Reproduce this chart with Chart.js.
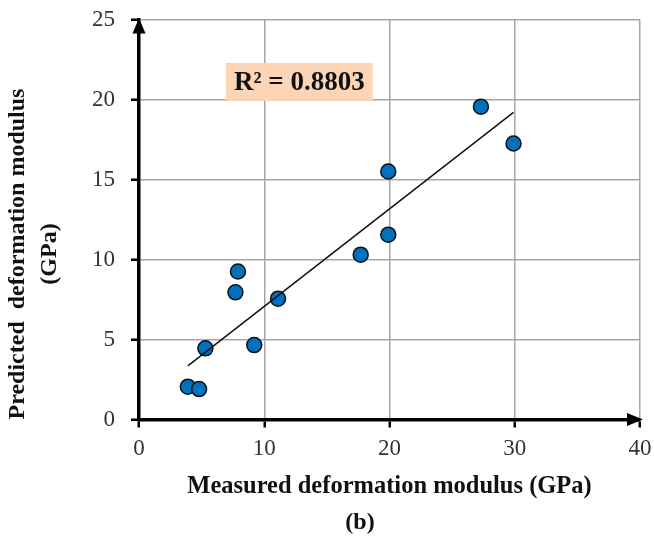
<!DOCTYPE html>
<html>
<head>
<meta charset="utf-8">
<script src="https://cdn.jsdelivr.net/npm/chart.js@4/dist/chart.umd.min.js"></script>
<style>
html,body{margin:0;padding:0;background:#fff;}
#wrap{width:654px;height:538px;}
</style>
</head>
<body>
<div id="wrap"><canvas id="chart" width="654" height="538"></canvas></div>
<script>
// measured vs predicted deformation modulus (GPa)
const measured=[3.9,4.8,5.3,7.7,7.9,9.2,11.1,17.7,19.9,19.9,27.3,29.9];
const predicted=[2.05,1.9,4.45,7.95,9.25,4.65,7.55,10.3,11.55,15.5,19.55,17.25];

// trend line end points
const trendX=[3.9,29.9];
const trendY=[3.35,19.2];

const r2Text="R\u00b2 = 0.8803";
const r2Pos=[12.8,21.1];

const xTicks=[0,10,20,30,40];
const yTicks=[0,5,10,15,20,25];

const yTitle=['Predicted  deformation modulus','(GPa)'];

const serif="'Liberation Serif','Times New Roman',serif";

const points=measured.map((x,i)=>({x:x,y:predicted[i]}));
const trend=trendX.map((x,i)=>({x:x,y:trendY[i]}));

// axis arrows, R² box, y title and the (b) caption
const extras={
id:'extras',
afterDraw(chart){
const ctx=chart.ctx;
const a=chart.chartArea;
const xs=chart.scales.x;
const ys=chart.scales.y;
ctx.save();
ctx.fillStyle='#000';
// y arrow
ctx.beginPath();
ctx.moveTo(a.left,a.top-1.5);
ctx.lineTo(a.left-6.5,a.top+14);
ctx.lineTo(a.left+6.5,a.top+14);
ctx.closePath();
ctx.fill();
// x arrow
ctx.beginPath();
ctx.moveTo(a.right+3,a.bottom);
ctx.lineTo(a.right-13,a.bottom-6.5);
ctx.lineTo(a.right-13,a.bottom+6.5);
ctx.closePath();
ctx.fill();

// R² label
ctx.font="bold 27px "+serif;
const w=ctx.measureText(r2Text).width;
const cx=xs.getPixelForValue(r2Pos[0]);
const cy=ys.getPixelForValue(r2Pos[1]);
ctx.fillStyle='#fbd5b5';
ctx.fillRect(cx-w/2-8,cy-19,w+16,38);
ctx.fillStyle='#111';
ctx.textAlign='center';
ctx.textBaseline='middle';
ctx.fillText(r2Text,cx,cy+1);

// y title, two lines
ctx.font="bold 24px "+serif;
ctx.save();
ctx.translate(17.5,254);
ctx.rotate(-Math.PI/2);
ctx.fillText(yTitle[0],0,0);
ctx.restore();
ctx.save();
ctx.translate(50,254);
ctx.rotate(-Math.PI/2);
ctx.fillText(yTitle[1],0,0);
ctx.restore();

// caption
ctx.fillText('(b)',360,523);
ctx.restore();
}
};

function noPad(s){
s.paddingTop=0;
s.paddingBottom=0;
s.paddingLeft=0;
s.paddingRight=0;
}

new Chart(document.getElementById('chart'),{
type:'scatter',
data:{
datasets:[
{
label:'trend',
type:'line',
data:trend,
borderColor:'#111',
borderWidth:1.5,
pointRadius:0,
fill:false,
order:0
},
{
label:'points',
data:points,
backgroundColor:'#0070c0',
borderColor:'#111',
borderWidth:1.5,
pointRadius:7.5,
order:1
}
]
},
options:{
responsive:false,
animation:false,
layout:{autoPadding:false,padding:{top:19.5,right:14,left:0,bottom:0}},
plugins:{
legend:{display:false},
tooltip:{enabled:false}
},
scales:{
x:{
type:'linear',
min:xTicks[0],
max:xTicks[xTicks.length-1],
afterBuildTicks(s){s.ticks=xTicks.map(v=>({value:v}));},
afterFit(s){s.height=118.5;noPad(s);},
ticks:{font:{family:serif,size:23},color:'#333',padding:8},
grid:{color:'#a6a6a6',lineWidth:1.5,tickColor:'#000',tickWidth:2.5,tickLength:8},
border:{display:true,color:'#000',width:3.5},
title:{display:true,text:'Measured deformation modulus (GPa)',
font:{family:serif,size:24.5,weight:'bold'},color:'#111',padding:{top:0,bottom:36.5}}
},
y:{
type:'linear',
min:yTicks[0],
max:yTicks[yTicks.length-1],
afterBuildTicks(s){s.ticks=yTicks.map(v=>({value:v}));},
afterFit(s){s.width=139;noPad(s);},
ticks:{font:{family:serif,size:23},color:'#333',padding:16},
grid:{color:'#a6a6a6',lineWidth:1.5,tickColor:'#000',tickWidth:2.5,tickLength:8},
border:{display:true,color:'#000',width:3.5},
title:{display:false}
}
}
},
plugins:[extras]
});
</script>
</body>
</html>
